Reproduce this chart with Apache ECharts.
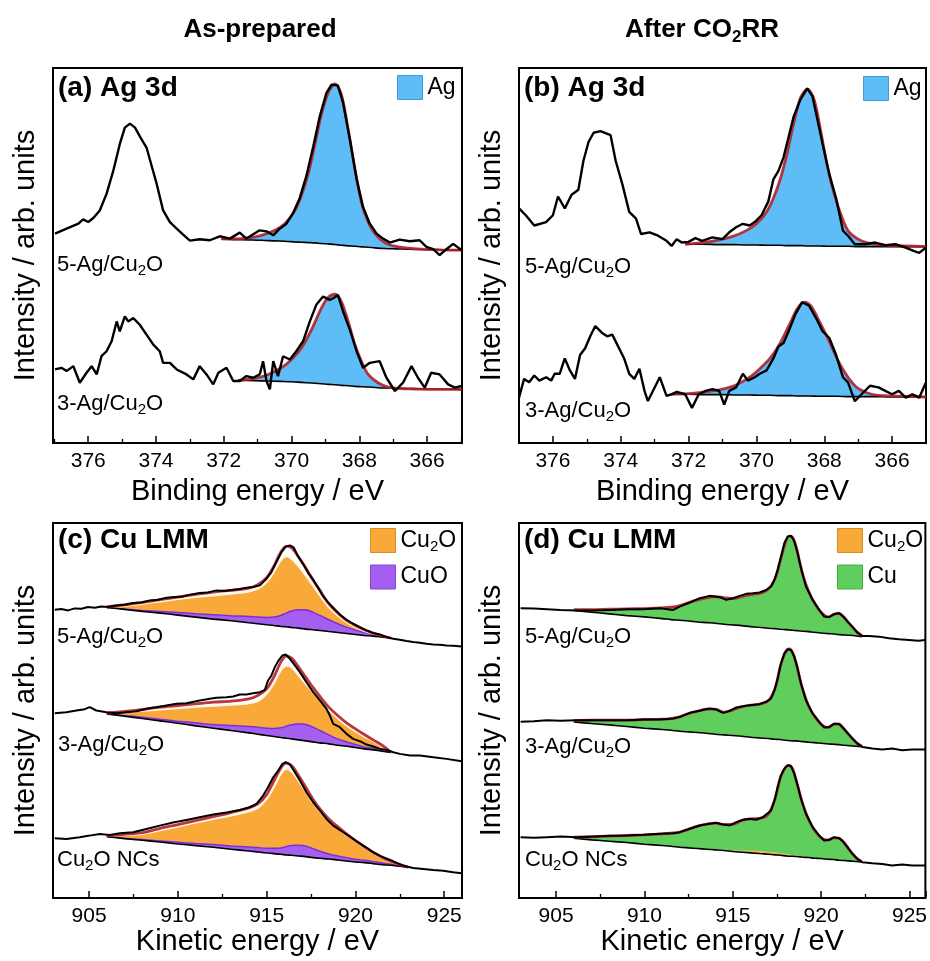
<!DOCTYPE html>
<html lang="en">
  <head>
    <meta charset="UTF-8" />
    <title>Ag 3d / Cu LMM</title>
    <style>
      * {
        margin: 0;
        padding: 0;
      }
      html,
      body {
        width: 100%;
        height: 100%;
        background: #fff;
      }
      #chart {
        width: 930px;
        height: 961px;
      }
    </style>
    <script src="https://cdn.jsdelivr.net/npm/echarts@6/dist/echarts.min.js"></script>
  </head>
  <body>
    <div id="chart"></div>
    <script>
      // ---------- (a) Ag 3d, as-prepared ----------
      var a5Raw = [[376.98,632],[376.64,647],[376.29,662],[376.15,675],[376.0,667],[375.85,679],[375.66,702],[375.46,752],[375.26,822],[375.07,902],[374.92,952],[374.77,964],[374.62,952],[374.43,917],[374.28,892],[374.13,837],[373.98,782],[373.79,702],[373.59,667],[373.39,647],[373.2,629],[373.0,611],[372.71,615],[372.41,612],[372.12,624],[371.82,617],[371.53,635],[371.33,617],[370.94,642],[370.74,639],[370.54,627],[370.35,647],[370.15,662],[369.95,695],[369.76,739],[369.56,807],[369.36,895],[369.17,985],[368.97,1057],[368.82,1082],[368.63,1079],[368.48,1027],[368.28,917],[368.08,797],[367.89,712],[367.69,662],[367.49,632],[367.3,617],[367.1,605],[366.81,614],[366.51,609],[366.22,612],[366.02,592],[365.82,585],[365.63,567],[365.43,585],[365.23,601],[364.98,582]];
      var a5X = [372.07,371.67,371.28,370.89,370.49,370.2,369.9,369.71,369.51,369.31,369.12,368.92,368.72,368.53,368.33,368.13,367.94,367.74,367.54,367.25,366.95,366.56,366.17,365.58,364.98];
      var a5Fit = [616,616,619,627,642,662,702,747,812,902,992,1057,1084,1052,947,827,727,667,632,605,594,588,585,583,582];
      var a5Bg = [615,614,613,612,610,609,607,606,605,604,602,601,599,597,595,594,592,591,589,587,586,585,584,583,582];

      var a3Raw = [[376.98,222],[376.79,227],[376.64,217],[376.44,232],[376.25,182],[376.05,212],[375.9,232],[375.75,207],[375.61,262],[375.46,277],[375.31,307],[375.16,367],[375.07,337],[374.92,382],[374.82,367],[374.67,377],[374.48,357],[374.28,327],[374.08,297],[373.89,277],[373.79,242],[373.59,242],[373.39,222],[373.1,207],[372.9,192],[372.71,232],[372.51,207],[372.31,177],[372.16,212],[371.92,227],[371.72,187],[371.53,187],[371.33,202],[371.13,197],[370.94,207],[370.84,247],[370.74,187],[370.64,162],[370.54,247],[370.4,202],[370.25,262],[370.05,252],[369.86,277],[369.66,307],[369.46,367],[369.27,417],[369.07,442],[368.87,432],[368.77,437],[368.63,447],[368.48,397],[368.28,342],[368.08,277],[367.89,227],[367.69,242],[367.4,247],[367.2,197],[366.95,157],[366.71,182],[366.46,232],[366.27,197],[366.07,167],[365.88,212],[365.63,207],[365.38,177],[365.18,167],[364.98,172]];
      var a3X = [371.58,371.08,370.69,370.3,370.0,369.71,369.41,369.12,368.92,368.72,368.53,368.33,368.13,367.94,367.74,367.45,367.15,366.76,366.37,365.78,364.98];
      var a3Fit = [189,195,207,227,252,287,342,407,439,449,427,367,297,247,207,182,169,164,163,162,162];
      var a3Bg = [189,188,187,186,185,183,181,179,177,176,174,173,171,170,169,167,166,165,164,163,162];

      // ---------- (b) Ag 3d, after CO2RR ----------
      var b5Raw = [[377.0,688],[376.8,668],[376.55,638],[376.2,648],[376.0,668],[375.85,723],[375.65,688],[375.45,728],[375.25,743],[375.1,828],[374.95,883],[374.8,910],[374.6,915],[374.3,903],[374.15,828],[373.95,758],[373.75,678],[373.55,658],[373.4,613],[373.15,618],[372.9,608],[372.65,593],[372.5,578],[372.35,598],[372.2,588],[372.0,590],[371.8,601],[371.6,593],[371.3,603],[371.0,598],[370.8,618],[370.6,633],[370.4,643],[370.2,638],[370.05,648],[369.85,668],[369.65,708],[369.5,773],[369.35,798],[369.2,838],[369.05,898],[368.9,958],[368.7,1008],[368.5,1040],[368.35,1018],[368.2,948],[368.05,878],[367.85,788],[367.65,718],[367.45,623],[367.3,608],[367.1,583],[366.8,583],[366.5,588],[366.2,580],[365.9,583],[365.6,573],[365.35,563],[365.2,558],[365.0,573]];
      var b5X = [372.1,371.6,371.1,370.7,370.3,370.0,369.7,369.5,369.3,369.1,368.9,368.7,368.5,368.3,368.1,367.9,367.7,367.5,367.3,367.0,366.7,366.2,365.6,365.0];
      var b5Fit = [583,588,596,606,623,643,678,718,773,848,938,1013,1038,1008,913,808,728,668,623,598,586,580,578,576];
      var b5Bg = [583,583,582,582,581,581,580,580,580,579,579,579,578,578,578,577,577,577,577,576,576,576,576,576];

      var b3Raw = [[377.0,133],[376.85,188],[376.7,178],[376.55,198],[376.4,183],[376.2,193],[376.05,183],[375.95,203],[375.8,203],[375.65,248],[375.5,213],[375.35,188],[375.2,258],[375.05,278],[374.9,313],[374.75,343],[374.55,323],[374.4,313],[374.25,318],[374.05,278],[373.9,248],[373.75,203],[373.6,188],[373.45,218],[373.3,153],[373.2,123],[373.0,163],[372.85,193],[372.65,138],[372.5,143],[372.35,150],[372.1,143],[371.9,103],[371.7,143],[371.5,153],[371.3,158],[371.1,153],[370.95,113],[370.8,153],[370.6,163],[370.4,203],[370.25,183],[370.05,193],[369.9,203],[369.7,213],[369.5,248],[369.35,283],[369.2,293],[369.05,328],[368.85,378],[368.65,413],[368.45,403],[368.25,368],[368.05,328],[367.85,308],[367.65,258],[367.45,193],[367.3,178],[367.1,123],[366.9,143],[366.65,168],[366.4,163],[366.2,153],[366.0,143],[365.8,153],[365.6,133],[365.4,143],[365.2,133],[365.0,178]];
      var b3X = [372.5,372.0,371.5,371.0,370.6,370.2,369.9,369.6,369.3,369.0,368.8,368.6,368.4,368.2,367.9,367.6,367.3,367.0,366.6,366.0,365.0];
      var b3Fit = [143,145,150,158,170,193,218,248,293,353,393,413,403,368,308,243,193,160,143,138,135];
      var b3Bg = [143,143,142,142,141,141,140,140,139,139,138,138,138,137,137,137,136,136,136,135,135];

      // ---------- (c) Cu LMM, as-prepared ----------
      var cX = [906,907,908,909,910,911,912,913,914,914.5,915,915.4,915.8,916.1,916.4,916.8,917.2,917.6,918,918.5,919,919.5,920,920.5,921,921.5,922];
      var cNX = [906,907,908,909,910,911,912,913,914,914.5,915,915.4,915.8,916.1,916.4,916.8,917.2,917.6,918,918.5,919,919.5,920,920.5,921,921.5,922,922.5,923];

      var c5Raw = [[903.07,864],[903.44,866],[903.82,862],[904.19,868],[904.57,867],[904.94,872],[905.32,870],[905.69,874],[906.07,872],[906.54,877],[907.01,879],[907.48,884],[907.95,886],[908.42,892],[908.89,894],[909.36,900],[909.83,902],[910.3,904],[910.77,910],[911.23,914],[911.7,916],[912.17,922],[912.64,920],[913.11,924],[913.49,926],[913.86,930],[914.24,932],[914.62,937],[914.99,957],[915.27,977],[915.55,1007],[915.84,1037],[916.08,1054],[916.31,1057],[916.53,1050],[916.77,1024],[917.06,1000],[917.34,974],[917.62,954],[917.9,930],[918.18,904],[918.46,886],[918.75,870],[919.12,850],[919.5,834],[919.87,822],[920.25,812],[920.62,802],[921.0,794],[921.38,790],[921.75,782],[922.13,777],[922.5,774],[922.88,770],[923.25,767],[923.63,765],[924.0,762],[924.38,760],[924.76,759],[925.13,757],[925.51,756],[925.98,754]];
      var c5Bg = [871,865,859,854,848,842,836,831,825,822,819,817,814,813,811,809,806,804,802,799,796,793,790,787,785,782,779];
      var c5CuO = [871,866,862,859,856,852,849,846,844,842,841,842,847,854,860,864,864,857,847,834,822,812,803,796,790,785,779];
      var c5Cu2O = [872,876,882,889,896,902,907,912,919,927,947,977,1012,1024,1017,994,967,937,907,872,847,827,812,800,792,785,779];
      var c5Fit = [873,879,886,894,902,910,917,922,929,939,960,994,1037,1054,1050,1022,990,954,922,882,854,832,817,804,794,786,779];

      var c3Raw = [[903.07,554],[903.72,557],[904.29,562],[904.76,566],[905.04,572],[905.41,562],[905.98,557],[906.54,554],[907.1,557],[907.67,560],[908.23,567],[908.79,572],[909.36,577],[909.92,582],[910.48,584],[911.23,592],[911.8,597],[912.17,600],[912.74,602],[913.11,604],[913.49,610],[913.86,610],[914.24,614],[914.62,617],[914.9,624],[915.08,652],[915.27,667],[915.46,692],[915.65,710],[915.89,727],[916.08,730],[916.31,717],[916.59,697],[916.87,677],[917.24,647],[917.62,617],[918.0,592],[918.37,567],[918.56,547],[918.75,522],[919.12,512],[919.5,492],[919.87,477],[920.25,470],[920.62,460],[921.0,454],[921.38,447],[921.75,444],[922.13,437],[922.5,432],[923.07,427],[923.63,427],[924.38,422],[925.13,417],[925.98,410]];
      var c3Bg = [552,545,538,531,524,516,509,502,495,491,487,484,481,479,477,474,471,468,465,462,458,455,451,447,444,440,436];
      var c3CuO = [552,547,542,536,530,525,520,517,514,512,509,508,510,515,519,522,520,512,502,489,477,468,460,453,448,442,436];
      var c3Cu2O = [553,557,561,565,569,573,576,579,584,590,612,644,682,696,692,667,642,617,594,564,539,517,500,484,470,454,436];
      var c3Fit = [554,559,565,572,577,582,587,590,597,607,627,662,707,725,719,692,662,632,604,572,547,525,507,490,474,458,437];

      var cNRaw = [[903.07,179],[903.72,177],[904.47,182],[905.04,187],[905.6,192],[906.16,189],[906.73,194],[907.48,197],[908.23,207],[908.98,217],[909.73,226],[910.48,234],[911.23,242],[911.99,250],[912.74,256],[913.49,264],[914.05,272],[914.43,282],[914.8,307],[915.08,332],[915.37,362],[915.65,382],[915.89,402],[916.08,407],[916.31,400],[916.59,377],[916.87,352],[917.24,317],[917.62,287],[918.0,262],[918.37,237],[918.75,217],[919.31,197],[919.87,177],[920.44,157],[921.0,137],[921.56,122],[922.13,110],[922.69,97],[923.25,90],[923.82,87],[924.38,84],[924.94,82],[925.51,77],[925.98,74]];
      var cNBg = [184,178,173,168,162,157,152,146,141,138,135,133,131,129,128,126,124,121,119,117,114,111,108,106,103,100,98,95,92];
      var cNCuO = [184,179,175,171,167,163,160,156,153,151,149,149,150,154,157,158,156,148,140,132,126,121,116,113,109,105,101,96,92];
      var cNCu2O = [185,189,192,203,214,226,237,247,260,270,297,332,372,387,380,352,319,287,260,232,210,189,170,152,135,120,109,99,92];
      var cNFit = [186,191,196,209,220,232,244,256,270,282,310,350,390,404,397,367,332,297,267,237,214,192,172,154,137,122,110,100,92];

      // ---------- (d) Cu LMM, after CO2RR ----------
      var dX = [906,907,908,909,910,911,911.5,912,912.5,913,913.5,914,914.5,915,915.5,916,916.5,917,917.4,917.7,918,918.2,918.4,918.6,918.8,919,919.3,919.6,920,920.4,920.7,921,921.3,921.6,922,922.3];

      var d5Raw = [[902.99,867],[903.74,866],[904.49,864],[905.24,862],[906.18,860],[907.12,860],[908.06,862],[909.0,864],[909.94,864],[910.88,867],[911.63,862],[912.0,872],[912.57,884],[913.13,897],[913.69,904],[914.26,900],[914.63,892],[915.01,897],[915.38,904],[915.76,910],[916.14,912],[916.51,914],[916.89,922],[917.17,932],[917.36,952],[917.54,982],[917.73,1022],[917.92,1062],[918.11,1082],[918.3,1084],[918.48,1067],[918.67,1032],[918.86,987],[919.14,932],[919.52,892],[919.89,862],[920.17,842],[920.46,840],[920.74,850],[921.02,852],[921.21,844],[921.49,827],[921.77,812],[922.05,794],[922.33,784],[922.71,784],[923.27,782],[923.84,777],[924.4,774],[924.96,772],[925.52,770],[925.9,772]];
      var d5Bg = [860,855,850,845,841,836,833,831,829,826,824,822,819,817,815,812,810,807,806,804,803,802,801,800,799,798,797,795,793,791,790,788,787,786,784,782];
      var d5Cu2O = [860,855,850,845,841,836,833,831,829,826,824,822,819,817,816,813,812,809,808,806,805,804,803,802,801,800,799,796,794,792,790,788,787,786,784,782];
      var d5Fit = [863,863,864,865,866,868,870,875,884,892,898,902,899,896,902,908,911,924,956,1012,1067,1083,1078,1048,1002,960,917,885,855,841,848,852,840,821,797,785];

      var d3Raw = [[902.99,527],[903.74,529],[904.49,532],[905.24,530],[906.18,532],[907.12,532],[908.06,532],[909.0,532],[909.94,534],[910.88,534],[911.63,537],[912.0,542],[912.57,554],[913.13,560],[913.69,567],[914.07,564],[914.45,554],[914.82,560],[915.2,570],[915.57,574],[915.95,577],[916.51,580],[916.89,587],[917.17,597],[917.36,622],[917.54,657],[917.73,702],[917.92,732],[918.11,744],[918.3,742],[918.48,722],[918.67,687],[918.86,642],[919.14,592],[919.52,552],[919.89,527],[920.17,510],[920.46,512],[920.74,522],[921.02,520],[921.21,510],[921.49,494],[921.77,477],[922.05,462],[922.33,452],[922.9,447],[923.46,444],[924.02,447],[924.59,442],[925.15,444],[925.9,444]];
      var d3Bg = [527,522,518,513,508,504,502,499,497,495,493,490,488,486,484,481,479,477,475,474,472,471,470,470,469,468,466,465,463,461,460,459,457,456,454,453];
      var d3Cu2O = [527,522,518,513,508,504,502,499,497,495,493,490,488,487,485,482,481,479,477,476,474,473,472,472,471,469,467,466,464,461,460,459,457,456,454,453];
      var d3Fit = [531,532,532,532,534,535,537,542,552,559,565,565,556,563,572,577,580,590,628,695,738,745,733,700,655,617,573,546,520,510,519,521,506,487,465,454];

      var dNRaw = [[902.99,182],[903.74,180],[904.49,182],[905.24,184],[906.18,182],[907.12,184],[908.06,186],[909.0,187],[909.94,189],[910.88,192],[911.63,194],[912.0,197],[912.57,207],[913.13,217],[913.69,222],[914.07,225],[914.45,220],[914.82,217],[915.2,227],[915.57,234],[915.95,237],[916.32,234],[916.7,242],[917.17,262],[917.36,292],[917.54,332],[917.73,367],[917.92,387],[918.11,397],[918.3,394],[918.48,372],[918.67,337],[918.86,297],[919.14,252],[919.52,212],[919.89,187],[920.17,172],[920.46,174],[920.74,182],[921.02,179],[921.21,170],[921.49,152],[921.77,132],[922.05,117],[922.33,107],[922.9,104],[923.46,102],[924.02,97],[924.59,100],[925.15,97],[925.9,97]];
      var dNBg = [179,174,170,166,161,157,155,152,150,148,146,144,142,139,137,135,133,131,129,128,126,125,125,124,123,122,121,119,118,116,115,113,112,111,109,108];
      var dNCu2O = [179,174,170,166,161,157,155,152,150,148,146,144,144,142,141,141,140,138,136,134,132,130,129,127,125,124,121,119,118,116,115,113,112,111,109,108];
      var dNFit = [182,183,185,187,189,192,194,197,206,215,221,224,220,220,232,237,238,250,298,362,392,397,385,350,310,275,234,205,180,173,180,179,166,144,120,109];

      // 颜色
      var BLUE = "#5ebdf7";
      var ORANGE = "#f9a93a";
      var PURPLE = "#a55ff0";
      var GREEN = "#5fce5d";
      var FIT = "#b3202a";
      var FONT = "Liberation Sans, Arial, sans-serif";

      function pairs(xs, ys) {
        return xs.map(function (x, i) {
          return [x, ys[i]];
        });
      }
      // 两个数值轴时 ECharts 会堆叠第一列, 所以堆叠的系列把强度放在第一列
      function stackPairs(xs, ys) {
        return xs.map(function (x, i) {
          return [ys[i], x];
        });
      }

      // 一个样品: 背景线 + 堆叠的分峰面积 + 拟合线 + 原始谱
      function sample(g, key, xs, bg, comps, fit, raw, rawWidth) {
        var list = [
          {
            name: key + "-bg",
            type: "line",
            xAxisIndex: g,
            yAxisIndex: g,
            stack: key,
            stackStrategy: "all",
            encode: { x: 1, y: 0 },
            smooth: 0.3,
            symbol: "none",
            z: 4,
            lineStyle: { color: "#000", width: 1.6 },
            data: stackPairs(xs, bg),
          },
        ];
        var below = bg;
        comps.forEach(function (c) {
          var low = below;
          list.push({
            name: c.name,
            type: "line",
            xAxisIndex: g,
            yAxisIndex: g,
            stack: key,
            stackStrategy: "all",
            encode: { x: 1, y: 0 },
            smooth: 0.3,
            symbol: "none",
            z: 2,
            lineStyle: c.edge || { width: 0 },
            itemStyle: { color: c.color },
            areaStyle: { color: c.color, opacity: 1 },
            data: stackPairs(
              xs,
              c.top.map(function (v, i) {
                return v - low[i];
              })
            ),
          });
          below = c.top;
        });
        list.push({
          name: key + "-fit",
          type: "line",
          xAxisIndex: g,
          yAxisIndex: g,
          smooth: 0.3,
          symbol: "none",
          z: 5,
          lineStyle: { color: FIT, width: 2.8, opacity: 0.9 },
          data: pairs(xs, fit),
        });
        list.push({
          name: key + "-raw",
          type: "line",
          xAxisIndex: g,
          yAxisIndex: g,
          symbol: "none",
          z: 6,
          lineStyle: { color: "#000", width: rawWidth },
          data: raw,
        });
        return list;
      }

      var series = [].concat(
        sample(0, "a5", a5X, a5Bg, [{ name: "Ag", color: BLUE, top: a5Fit }], a5Fit, a5Raw, 2.4),
        sample(0, "a3", a3X, a3Bg, [{ name: "Ag", color: BLUE, top: a3Fit }], a3Fit, a3Raw, 2.4),
        sample(1, "b5", b5X, b5Bg, [{ name: "Ag", color: BLUE, top: b5Fit }], b5Fit, b5Raw, 2.4),
        sample(1, "b3", b3X, b3Bg, [{ name: "Ag", color: BLUE, top: b3Fit }], b3Fit, b3Raw, 2.4),
        sample(2, "c5", cX, c5Bg, [
          { name: "CuO", color: PURPLE, top: c5CuO, edge: { color: "#7d2fd6", width: 1.5 } },
          { name: "Cu2O", color: ORANGE, top: c5Cu2O, edge: { color: "#fff6e6", width: 2 } },
        ], c5Fit, c5Raw, 2),
        sample(2, "c3", cX, c3Bg, [
          { name: "CuO", color: PURPLE, top: c3CuO, edge: { color: "#7d2fd6", width: 1.5 } },
          { name: "Cu2O", color: ORANGE, top: c3Cu2O, edge: { color: "#fff6e6", width: 2 } },
        ], c3Fit, c3Raw, 2),
        sample(2, "cN", cNX, cNBg, [
          { name: "CuO", color: PURPLE, top: cNCuO, edge: { color: "#7d2fd6", width: 1.5 } },
          { name: "Cu2O", color: ORANGE, top: cNCu2O, edge: { color: "#fff6e6", width: 2 } },
        ], cNFit, cNRaw, 2),
        sample(3, "d5", dX, d5Bg, [
          { name: "Cu2O", color: ORANGE, top: d5Cu2O },
          { name: "Cu", color: GREEN, top: d5Fit },
        ], d5Fit, d5Raw, 2),
        sample(3, "d3", dX, d3Bg, [
          { name: "Cu2O", color: ORANGE, top: d3Cu2O },
          { name: "Cu", color: GREEN, top: d3Fit },
        ], d3Fit, d3Raw, 2),
        sample(3, "dN", dX, dNBg, [
          { name: "Cu2O", color: ORANGE, top: dNCu2O },
          { name: "Cu", color: GREEN, top: dNFit },
        ], dNFit, dNRaw, 2)
      );

      function xAxis(g, min, max, inverse, splitNumber, name, gap) {
        return {
          gridIndex: g,
          type: "value",
          min: min,
          max: max,
          inverse: inverse,
          splitNumber: splitNumber,
          axisLine: { show: false },
          axisTick: { show: true, inside: true, length: 7, lineStyle: { color: "#000", width: 1.5 } },
          minorTick: { show: true, splitNumber: 2, length: 4, lineStyle: { color: "#000", width: 1.3 } },
          splitLine: { show: false },
          axisLabel: {
            color: "#000",
            fontSize: 21,
            fontFamily: FONT,
            margin: 8,
            showMinLabel: false,
            showMaxLabel: false,
          },
          name: name,
          nameLocation: "middle",
          nameGap: gap,
          nameTextStyle: { color: "#000", fontSize: 29, fontFamily: FONT },
        };
      }

      function yAxis(g, max) {
        return {
          gridIndex: g,
          type: "value",
          min: 0,
          max: max,
          axisLine: { show: false },
          axisTick: { show: false },
          axisLabel: { show: false },
          splitLine: { show: false },
          name: "Intensity / arb. units",
          nameLocation: "middle",
          nameGap: 13,
          nameTextStyle: { color: "#000", fontSize: 29, fontFamily: FONT },
        };
      }

      var subRich = {
        n: { fontSize: 22, lineHeight: 27, fontFamily: FONT, color: "#000" },
        s: { fontSize: 15, lineHeight: 15, verticalAlign: "bottom", fontFamily: FONT, color: "#000" },
      };
      var legendRich = {
        n: { fontSize: 23, lineHeight: 28, fontFamily: FONT, color: "#000" },
        s: { fontSize: 15, lineHeight: 15, verticalAlign: "bottom", fontFamily: FONT, color: "#000" },
      };

      function legend(left, top, items) {
        return {
          left: left,
          top: top,
          orient: "vertical",
          icon: "rect",
          itemWidth: 25,
          itemHeight: 24,
          itemGap: 10,
          itemTextGap: 5,
          selectedMode: false,
          padding: 0,
          data: items,
          formatter: function (name) {
            return name === "Cu2O" ? "{n|Cu}{s|2}{n|O}" : "{n|" + name + "}";
          },
          textStyle: { rich: legendRich },
        };
      }

      function item(name, color, border) {
        return { name: name, itemStyle: { color: color, borderColor: border, borderWidth: 1 } };
      }

      function text(x, y, str, rich, align) {
        return {
          type: "text",
          x: x,
          y: y,
          style: { text: str, rich: rich, align: align || "left", verticalAlign: "middle", fill: "#000" },
        };
      }

      var titleRich = {
        t: { fontSize: 26, fontWeight: "bold", lineHeight: 32, fontFamily: FONT, color: "#000" },
        s: { fontSize: 17, fontWeight: "bold", lineHeight: 17, verticalAlign: "bottom", fontFamily: FONT, color: "#000" },
      };
      var panelRich = {
        p: { fontSize: 28, fontWeight: "bold", lineHeight: 32, fontFamily: FONT, color: "#000" },
      };

      var option = {
        animation: false,
        backgroundColor: "#fff",
        textStyle: { fontFamily: FONT },
        grid: [
          { left: 53, top: 68, width: 409, height: 375, show: true, borderColor: "#000", borderWidth: 2 },
          { left: 519, top: 68, width: 407, height: 375, show: true, borderColor: "#000", borderWidth: 2 },
          { left: 53, top: 523, width: 409, height: 375, show: true, borderColor: "#000", borderWidth: 2 },
          { left: 519, top: 523, width: 407, height: 375, show: true, borderColor: "#000", borderWidth: 2 },
        ],
        xAxis: [
          xAxis(0, 364.97, 377.04, true, 6, "Binding energy / eV", 34),
          xAxis(1, 365.0, 377.0, true, 6, "Binding energy / eV", 34),
          xAxis(2, 902.97, 926.0, false, 5, "Kinetic energy / eV", 29),
          xAxis(3, 902.9, 925.9, false, 5, "Kinetic energy / eV", 29),
        ],
        yAxis: [yAxis(0, 1132), yAxis(1, 1100), yAxis(2, 1124), yAxis(3, 1122)],
        legend: [
          legend(397, 75, [item("Ag", BLUE, "#3f9ad6")]),
          legend(863, 76, [item("Ag", BLUE, "#3f9ad6")]),
          legend(370, 528, [item("Cu2O", ORANGE, "#d98a22"), item("CuO", PURPLE, "#8a45d0")]),
          legend(837, 528, [item("Cu2O", ORANGE, "#d98a22"), item("Cu", GREEN, "#4aae48")]),
        ],
        graphic: [
          text(260, 30, "{t|As-prepared}", titleRich, "center"),
          text(702, 30, "{t|After CO}{s|2}{t|RR}", titleRich, "center"),
          text(58, 88, "{p|(a) Ag 3d}", panelRich),
          text(524, 88, "{p|(b) Ag 3d}", panelRich),
          text(58, 540, "{p|(c) Cu LMM}", panelRich),
          text(524, 540, "{p|(d) Cu LMM}", panelRich),
          text(57, 265, "{n|5-Ag/Cu}{s|2}{n|O}", subRich),
          text(57, 404, "{n|3-Ag/Cu}{s|2}{n|O}", subRich),
          text(525, 267, "{n|5-Ag/Cu}{s|2}{n|O}", subRich),
          text(525, 411, "{n|3-Ag/Cu}{s|2}{n|O}", subRich),
          text(57, 637, "{n|5-Ag/Cu}{s|2}{n|O}", subRich),
          text(58, 745, "{n|3-Ag/Cu}{s|2}{n|O}", subRich),
          text(57, 860, "{n|Cu}{s|2}{n|O NCs}", subRich),
          text(525, 637, "{n|5-Ag/Cu}{s|2}{n|O}", subRich),
          text(525, 747, "{n|3-Ag/Cu}{s|2}{n|O}", subRich),
          text(525, 860, "{n|Cu}{s|2}{n|O NCs}", subRich),
        ],
        series: series,
      };

      var myChart = echarts.init(document.getElementById("chart"), null, { renderer: "canvas" });
      myChart.setOption(option);
    </script>
  </body>
</html>
